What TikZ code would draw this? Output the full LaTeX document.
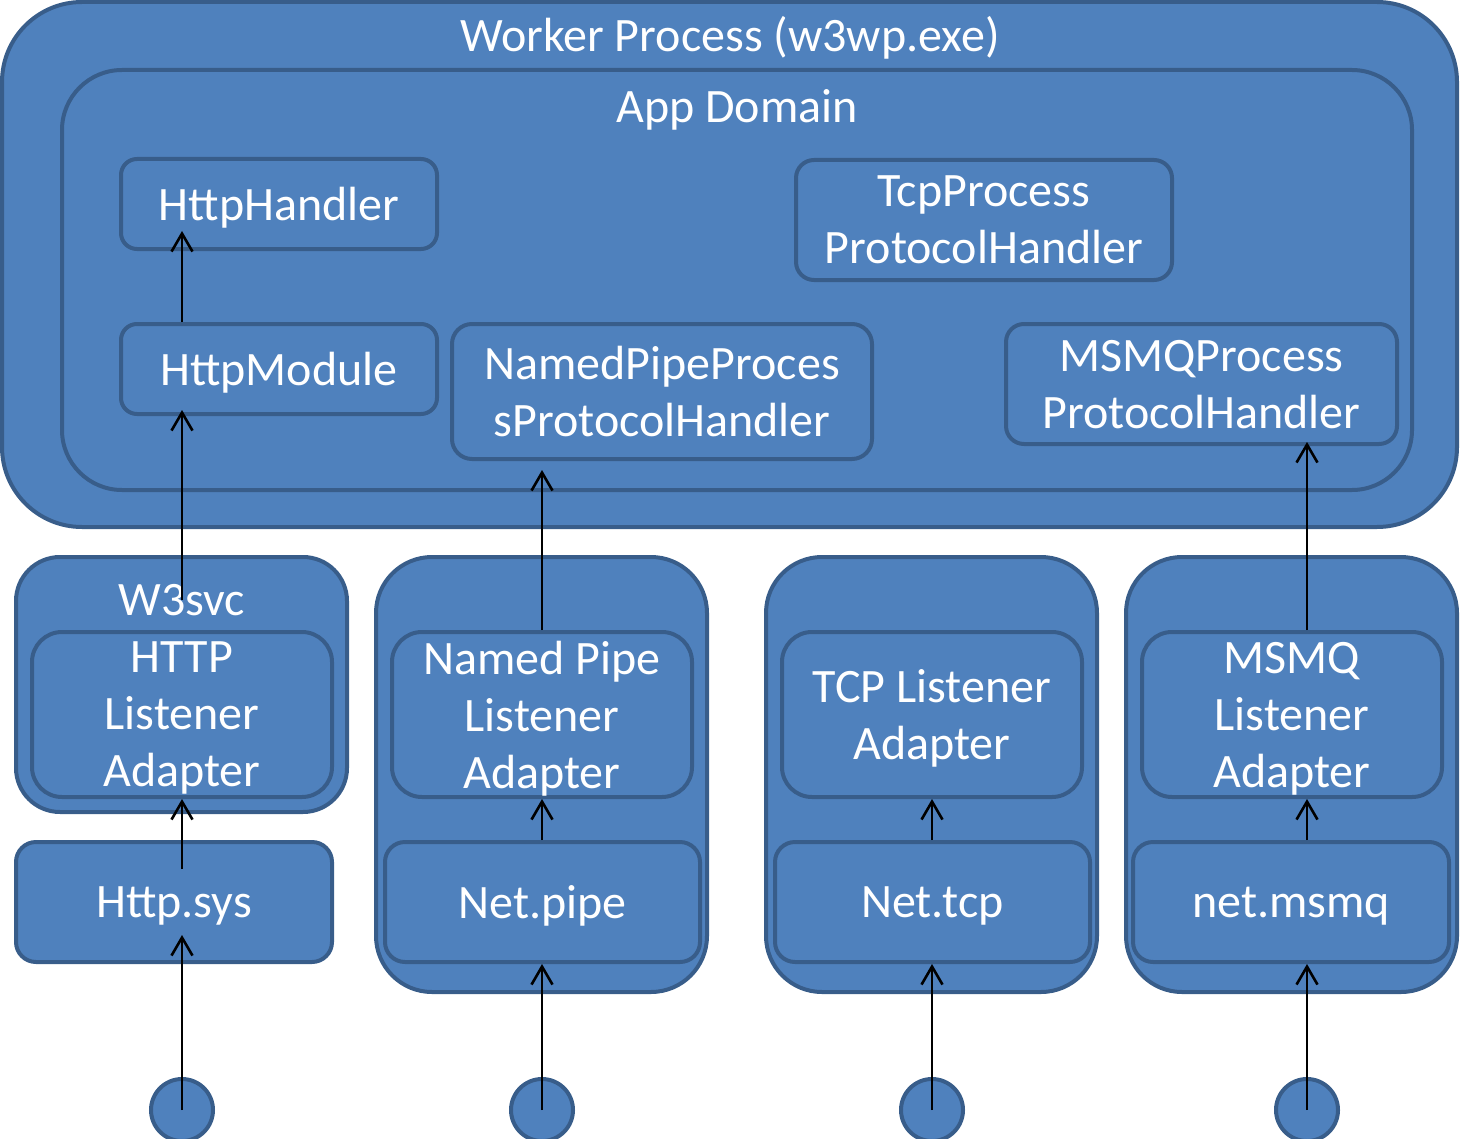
\documentclass[tikz,border=0pt]{standalone}
\usepackage{fontspec}
\setmainfont{Carlito}
\usetikzlibrary{arrows.meta,calc}
\definecolor{boxfill}{RGB}{79,129,189}
\definecolor{boxline}{RGB}{56,93,138}
\begin{document}
\begin{tikzpicture}[x=0.5pt,y=-0.5pt,
    box/.style={draw=boxline, fill=boxfill, line width=2pt, text=white, text depth=0pt,
      align=center, inner sep=0pt, font=\fontsize{24}{28.5}\selectfont},
    title/.style={text=white, inner sep=0pt, font=\fontsize{24}{28.5}\selectfont},
    arr/.style={-{Straight Barb[length=9pt,width=10.5pt]}, line width=1.3pt}]
  \useasboundingbox (0,0) rectangle (1460,1139);
  % worker process and app domain
  \node[box, rounded corners=40pt, minimum width=727.5pt, minimum height=262.5pt] (wp) at (729.5,264.5) {};
  \node[title] (wptitle) at (730,38) {Worker Process (w3wp.exe)};
  \node[box, rounded corners=30pt, minimum width=675pt, minimum height=210pt] (ad) at (737,280) {};
  \node[title] (adtitle) at (737,110) {App Domain};
  \node[box, rounded corners=8pt, minimum width=158pt, minimum height=45pt] (hh) at (279,204) {HttpHandler};
  \node[box, rounded corners=9pt, minimum width=188pt, minimum height=60pt] (tph) at (984,220) {TcpProcess\\ProtocolHandler};
  \node[box, rounded corners=8pt, minimum width=158pt, minimum height=45pt] (hmod) at (279,369) {HttpModule};
  \node[box, rounded corners=10pt, minimum width=210pt, minimum height=67.5pt] (nph) at (662,391.5) {NamedPipeProces\\sProtocolHandler};
  \node[box, rounded corners=9pt, minimum width=195.5pt, minimum height=60pt] (mph) at (1201.5,384) {MSMQProcess\\ProtocolHandler};
  % listeners
  \node[box, rounded corners=22pt, minimum width=165.5pt, minimum height=127.5pt] (w3) at (181.5,684.5) {};
  \node[title] (w3title) at (182,600) {W3svc};
  \node[box, rounded corners=15pt, minimum width=150pt, minimum height=82.5pt] (hla) at (182,714.5) {HTTP\\Listener\\Adapter};
  \node[box, rounded corners=10pt, minimum width=158pt, minimum height=60pt] (hsys) at (174,902) {Http.sys};
  \node[box, rounded corners=28pt, minimum width=165.5pt, minimum height=217.5pt] (np) at (541.5,774.5) {};
  \node[box, rounded corners=15pt, minimum width=150pt, minimum height=82.5pt] (npla) at (542,714.5) {Named Pipe\\Listener\\Adapter};
  \node[box, rounded corners=10pt, minimum width=157.5pt, minimum height=60pt] (nnet) at (542.5,902) {Net.pipe};
  \node[box, rounded corners=28pt, minimum width=165.5pt, minimum height=217.5pt] (tcp) at (931.5,774.5) {};
  \node[box, rounded corners=15pt, minimum width=150pt, minimum height=82.5pt] (tla) at (932,714.5) {TCP Listener\\Adapter};
  \node[box, rounded corners=10pt, minimum width=157.5pt, minimum height=60pt] (tnet) at (932.5,902) {Net.tcp};
  \node[box, rounded corners=28pt, minimum width=165.5pt, minimum height=217.5pt] (mq) at (1291.5,774.5) {};
  \node[box, rounded corners=15pt, minimum width=150pt, minimum height=82.5pt] (mla) at (1292,714.5) {MSMQ\\Listener\\Adapter};
  \node[box, rounded corners=10pt, minimum width=158pt, minimum height=60pt] (mnet) at (1291,902) {net.msmq};
  % entry points
  \node[box, circle, minimum size=31pt] (c1) at (182,1110) {};
  \node[box, circle, minimum size=31pt] (c2) at (542,1110) {};
  \node[box, circle, minimum size=31pt] (c3) at (932,1110) {};
  \node[box, circle, minimum size=31pt] (c4) at (1307,1110) {};
  % arrows
  \draw[arr] (c1.center) -- ($(c1 |- hsys.south)+(0,-29)$);
  \draw[arr] ($(c1 |- hsys.north)+(0,29)$) -- (c1 |- hla.south);
  \draw[arr] (w3title.center) -- ($(w3title |- hmod.south)+(0,-6)$);
  \draw[arr] (w3title |- hmod.north) -- ($(w3title |- hh.south)+(0,-20)$);
  \draw[arr] (c2.center) -- (c2 |- nnet.south);
  \draw[arr] (c2 |- nnet.north) -- (c2 |- npla.south);
  \draw[arr] (c2 |- npla.north) -- ($(c2 |- nph.south)+(0,9)$);
  \draw[arr] (c3.center) -- (c3 |- tnet.south);
  \draw[arr] (c3 |- tnet.north) -- (c3 |- tla.south);
  \draw[arr] (c4.center) -- (c4 |- mnet.south);
  \draw[arr] (c4 |- mnet.north) -- (c4 |- mla.south);
  \draw[arr] (c4 |- mla.north) -- ($(c4 |- mph.south)+(0,-4)$);
\end{tikzpicture}
\end{document}
